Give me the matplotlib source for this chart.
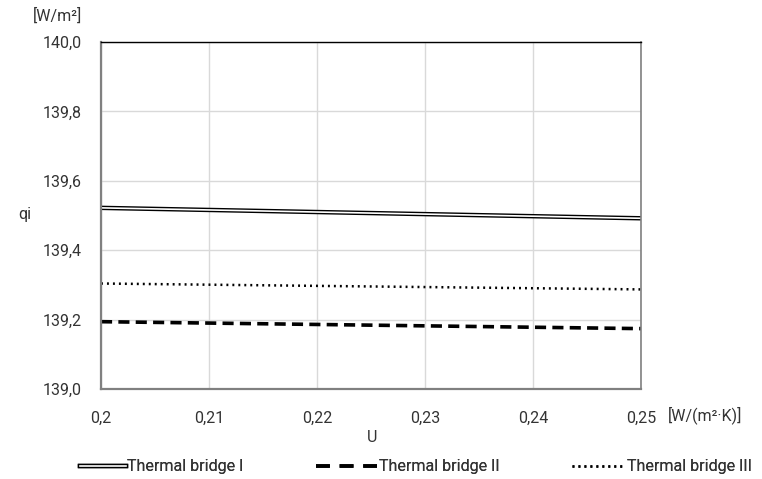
import matplotlib.pyplot as plt
from matplotlib.lines import Line2D

plt.rcParams['font.family'] = ['Roboto', 'DejaVu Sans']
plt.rcParams['lines.scale_dashes'] = False

# data
u = [0.20, 0.25]
bridge_1 = [139.522, 139.492]
bridge_2 = [139.194, 139.174]
bridge_3 = [139.304, 139.287]
xticks = [0.20, 0.21, 0.22, 0.23, 0.24, 0.25]
xlabels = ['0,2', '0,21', '0,22', '0,23', '0,24', '0,25']
yticks = [139.0, 139.2, 139.4, 139.6, 139.8, 140.0]
ylabels = ['139,0', '139,2', '139,4', '139,6', '139,8', '140,0']
names = ['Thermal bridge I', 'Thermal bridge II', 'Thermal bridge III']

fig = plt.figure(figsize=(7.62, 4.79), dpi=100)
ax = fig.add_axes([101/762, 1-389/479, 540/762, 347/479])

dash = (0, (8, 4.5))
dots = (0, (1.4, 2.9))

# double line: black outline with white centre
ax.plot(u, bridge_1, color='black', lw=3.2, solid_capstyle='butt')
ax.plot(u, bridge_1, color='white', lw=1.2, solid_capstyle='butt')
ax.plot(u, bridge_2, color='black', lw=2.6, linestyle=dash, dash_capstyle='butt')
ax.plot(u, bridge_3, color='black', lw=1.8, linestyle=dots, dash_capstyle='butt')

ax.set_xlim(0.2, 0.25)
ax.set_ylim(139.0, 140.0)
ax.set_xticks(xticks)
ax.set_xticklabels(xlabels)
ax.set_yticks(yticks)
ax.set_yticklabels(ylabels)
ax.tick_params(length=0, labelsize=11.5, colors='#333333', pad=14)
ax.tick_params(axis='x', pad=16)
ax.grid(True, color='#d9d9d9', lw=1)
ax.set_axisbelow(True)

for s in ['left', 'right', 'bottom']:
    ax.spines[s].set_color('#808080')
ax.spines['left'].set_linewidth(1.6)
ax.spines['right'].set_linewidth(1.2)
ax.spines['bottom'].set_linewidth(1.6)
ax.spines['top'].set_color('black')
ax.spines['top'].set_linewidth(1)

txt = dict(fontsize=11.5, color='#333333', ha='center', va='center')
fig.text(25/762, 1-215/479, 'qi', **txt)
fig.text(58/762, 1-16/479, '[W/m²]', **txt)
fig.text(372/762, 1-437/479, 'U', **txt)
fig.text(705/762, 1-415/479, '[W/(m²·K)]', **txt)

# legend: three separate entries along the bottom
h1 = (Line2D([], [], color='black', lw=3.2), Line2D([], [], color='white', lw=1.2))
h2 = Line2D([], [], color='black', lw=2.6, linestyle=(0, (10, 7)))
h3 = Line2D([], [], color='black', lw=1.8, linestyle=dots)
handles = [h1, h2, h3]
starts = [80, 316, 572]
lengths = [2.85, 3.85, 3.3]
for h, name, x0, hl in zip(handles, names, starts, lengths):
    leg = fig.legend([h], [name], loc='center left', bbox_to_anchor=(x0/762, 1-467/479),
                     frameon=False, fontsize=11.5, handlelength=hl, handletextpad=0.12,
                     borderpad=0, borderaxespad=0, labelcolor='#333333')
    fig.add_artist(leg)

fig.savefig('out.png', dpi=100)
